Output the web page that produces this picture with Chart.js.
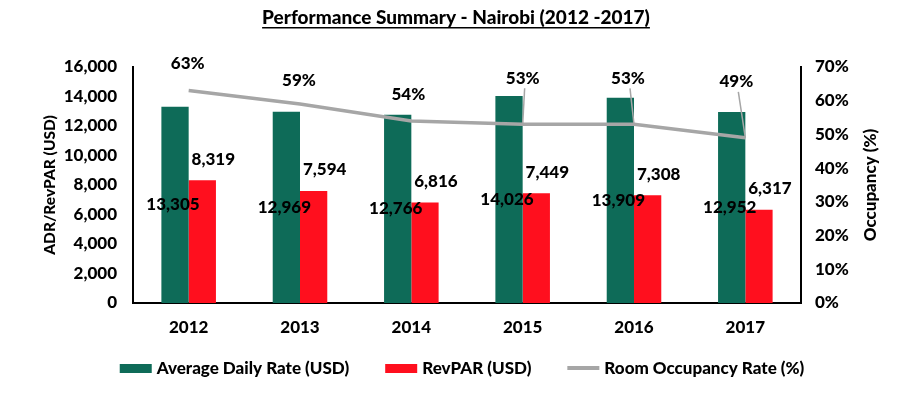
<!DOCTYPE html>
<html>
<head>
<meta charset="utf-8">
<script src="https://cdn.jsdelivr.net/npm/chart.js@4/dist/chart.umd.min.js"></script>
<style>
html,body{margin:0;padding:0;background:#fff;}
#wrap{width:904px;height:398px;position:relative;}
</style>
</head>
<body>
<div id="wrap"><canvas id="c" width="904" height="398"></canvas></div>
<script>
const categories = ['2012', '2013', '2014', '2015', '2016', '2017'];
const adrValues = [13305, 12969, 12766, 14026, 13909, 12952];
const revparValues = [8319, 7594, 6816, 7449, 7308, 6317];
const occupancyValues = [0.63, 0.59, 0.54, 0.53, 0.53, 0.49];
const leftTicks = [0, 2000, 4000, 6000, 8000, 10000, 12000, 14000, 16000];
const rightTicks = [0, 0.1, 0.2, 0.3, 0.4, 0.5, 0.6, 0.7];

const titleText = 'Performance Summary - Nairobi (2012 -2017)';
const leftAxisTitle = 'ADR/RevPAR (USD)';
const rightAxisTitle = 'Occupancy (%)';
const seriesNames = ['Average Daily Rate (USD)', 'RevPAR (USD)', 'Room Occupancy Rate (%)'];

// label placement for occupancy labels (dx, dy from point, leader line flag)
const occLabelOffsets = [[-1, -27, false], [-1, -24, false], [-3, -26, false], [0, -46, true], [-6, -46, true], [-9, -56, true]];

const FONT = 'Lato, "Open Sans", sans-serif';
const W = '900';
const GREEN = '#0E6B58';
const RED = '#FF0F1E';
const GRAY = '#A6A6A6';

const fmt = v => v.toLocaleString('en-US');

const labelPlugin = {
  id: 'labelPlugin',
  afterDatasetsDraw(chart) {
    const ctx = chart.ctx;
    ctx.save();
    ctx.font = W + ' 17px ' + FONT;
    ctx.fillStyle = '#000';
    ctx.textAlign = 'center';
    ctx.textBaseline = 'middle';
    const m0 = chart.getDatasetMeta(0);
    m0.data.forEach((el, i) => {
      ctx.fillText(fmt(adrValues[i]), el.x - 2, (el.y + el.base) / 2);
    });
    const m1 = chart.getDatasetMeta(1);
    m1.data.forEach((el, i) => {
      ctx.fillText(fmt(revparValues[i]), el.x + 11, el.y - 21);
    });
    const m2 = chart.getDatasetMeta(2);
    m2.data.forEach((el, i) => {
      const o = occLabelOffsets[i];
      const lx = el.x + o[0], ly = el.y + o[1];
      if (o[2]) {
        ctx.strokeStyle = GRAY;
        ctx.lineWidth = 1.5;
        ctx.beginPath();
        ctx.moveTo(lx + 2, ly + 10);
        ctx.lineTo(el.x, el.y);
        ctx.stroke();
      }
      ctx.fillText(Math.round(occupancyValues[i] * 100) + '%', lx, ly);
    });
    ctx.restore();
  }
};

const decorPlugin = {
  id: 'decorPlugin',
  afterDraw(chart) {
    const ctx = chart.ctx;
    const ca = chart.chartArea;
    ctx.save();
    ctx.fillStyle = '#000';
    ctx.font = W + ' 19px ' + FONT;
    ctx.textAlign = 'center';
    ctx.textBaseline = 'alphabetic';
    const cx = 456, by = 24;
    ctx.fillText(titleText, cx, by);
    const w = ctx.measureText(titleText).width;
    ctx.fillRect(cx - w / 2, by + 3, w, 1.5);
    // axis titles, both reading bottom-to-top
    const midY = (ca.top + ca.bottom) / 2;
    ctx.textBaseline = 'middle';
    ctx.font = W + ' 15.5px ' + FONT;
    ctx.translate(50, midY);
    ctx.rotate(-Math.PI / 2);
    ctx.fillText(leftAxisTitle, 0, 0);
    ctx.setTransform(1, 0, 0, 1, 0, 0);
    ctx.font = W + ' 17px ' + FONT;
    ctx.translate(871, midY);
    ctx.rotate(-Math.PI / 2);
    ctx.fillText(rightAxisTitle, 0, 0);
    ctx.setTransform(1, 0, 0, 1, 0, 0);
    // legend
    ctx.font = W + ' 17px ' + FONT;
    ctx.textAlign = 'left';
    const ly = 369, gap = 36, boxW = 32, txtGap = 5;
    const ds = chart.data.datasets;
    const widths = ds.map(d => boxW + txtGap + ctx.measureText(d.label).width);
    const total = widths.reduce((a, b) => a + b, 0) + gap * (ds.length - 1);
    let x = 462 - total / 2;
    ds.forEach((d, i) => {
      if (d.type === 'line') {
        ctx.strokeStyle = d.borderColor;
        ctx.lineWidth = 4;
        ctx.beginPath();
        ctx.moveTo(x, ly - 1);
        ctx.lineTo(x + boxW, ly - 1);
        ctx.stroke();
      } else {
        ctx.fillStyle = d.backgroundColor;
        ctx.fillRect(x, ly - 5, boxW, 9);
      }
      ctx.fillStyle = '#000';
      ctx.fillText(d.label, x + boxW + txtGap, ly);
      x += widths[i] + gap;
    });
    ctx.restore();
  }
};

const tickFont = { family: FONT, size: 17, weight: W };

new Chart(document.getElementById('c'), {
  data: {
    labels: categories,
    datasets: [
      { type: 'bar', label: seriesNames[0], data: adrValues, backgroundColor: GREEN, yAxisID: 'y', order: 2, categoryPercentage: 0.49, barPercentage: 1.0 },
      { type: 'bar', label: seriesNames[1], data: revparValues, backgroundColor: RED, yAxisID: 'y', order: 3, categoryPercentage: 0.49, barPercentage: 1.0 },
      { type: 'line', label: seriesNames[2], data: occupancyValues, borderColor: GRAY, backgroundColor: GRAY, borderWidth: 3.5, pointRadius: 0, yAxisID: 'y1', order: 1, tension: 0 }
    ]
  },
  options: {
    responsive: false,
    animation: false,
    layout: { padding: { top: 67, bottom: 55, left: 0, right: 0 } },
    plugins: {
      tooltip: { enabled: false },
      legend: { display: false }
    },
    scales: {
      x: {
        grid: { display: false, drawTicks: false },
        border: { display: true, color: '#000', width: 2 },
        ticks: { font: tickFont, color: '#000', padding: 14 },
        afterFit(s) { s.height = 40; }
      },
      y: {
        position: 'left',
        min: 0, max: 16000,
        afterBuildTicks(s) { s.ticks = leftTicks.map(v => ({ value: v })); },
        grid: { display: false, drawTicks: false },
        border: { display: true, color: '#000', width: 2 },
        ticks: { font: tickFont, color: '#000', padding: 16, autoSkip: false, callback: v => fmt(v) },
        afterFit(s) { s.width = 133; }
      },
      y1: {
        position: 'right',
        min: 0, max: 0.7,
        afterBuildTicks(s) { s.ticks = rightTicks.map(v => ({ value: v })); },
        grid: { display: false, drawTicks: false },
        border: { display: true, color: '#000', width: 2 },
        ticks: { font: tickFont, color: '#000', padding: 14, autoSkip: false, callback: v => Math.round(v * 100) + '%' },
        afterFit(s) { s.width = 103; }
      }
    }
  },
  plugins: [labelPlugin, decorPlugin]
});
</script>
</body>
</html>
